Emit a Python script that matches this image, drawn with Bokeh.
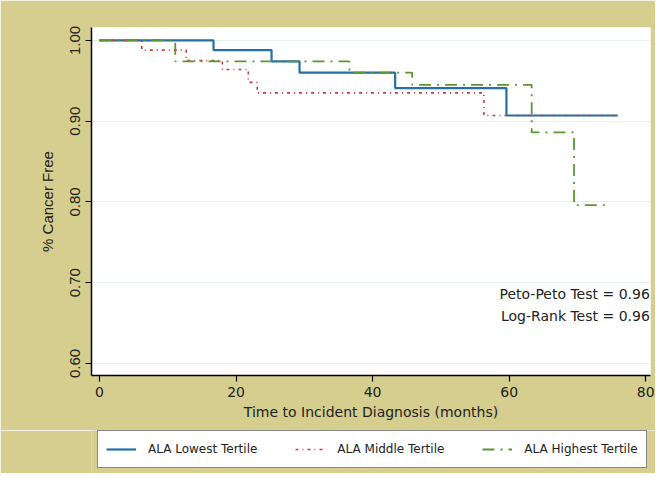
from bokeh.plotting import figure
from bokeh.layouts import column
from bokeh.models import Legend, LegendItem, Label, FixedTicker, Range1d, PrintfTickFormatter
from bokeh.embed import file_html
from bokeh.resources import INLINE

# Kaplan-Meier step data (months, survival fraction)
low_t = [0, 16.7, 25.2, 29.3, 43.3, 59.6, 75.9]
low_s = [1.000, 0.988, 0.974, 0.960, 0.941, 0.907, 0.907]

mid_t = [0, 6.2, 12.7, 18.0, 21.8, 23.1, 56.3, 76.0]
mid_s = [1.000, 0.988, 0.975, 0.964, 0.948, 0.935, 0.907, 0.907]

high_t = [0, 11.1, 36.6, 45.8, 63.3, 69.5, 74.5]
high_s = [1.000, 0.974, 0.960, 0.945, 0.886, 0.796, 0.796]

x_ticks = [0, 20, 40, 60, 80]
y_ticks = [0.60, 0.70, 0.80, 0.90, 1.00]
series_names = ["ALA Lowest Tertile", "ALA Middle Tertile", "ALA Highest Tertile"]
tests = ["Peto-Peto Test = 0.96", "Log-Rank Test = 0.96"]
test_y = [0.686, 0.659]

KHAKI = "#d5ce8f"
BLUE = "#2470a6"
RED = "#cc3b3b"
GREEN = "#5b9632"
styles = [dict(line_color=BLUE, line_width=2.2),
          dict(line_color=RED, line_width=1.6, line_dash="3 4 1 4"),
          dict(line_color=GREEN, line_width=1.8, line_dash="12 6 2 6")]
series = [(low_t, low_s), (mid_t, mid_s), (high_t, high_s)]

p = figure(frame_width=559, frame_height=348, output_backend="svg", toolbar_location=None,
           x_range=Range1d(-1.17, 80.7), y_range=Range1d(0.585, 1.016),
           min_border_left=91, min_border_right=5, min_border_top=27, min_border_bottom=55)
p.border_fill_color = KHAKI
p.background_fill_color = "white"
p.outline_line_color = None

for (t, s), st in zip(series, styles):
    p.step(t, s, mode="after", **st)

p.xaxis.ticker = FixedTicker(ticks=x_ticks)
p.yaxis.ticker = FixedTicker(ticks=y_ticks)
p.yaxis.formatter = PrintfTickFormatter(format="%.2f")

for ax in (p.xaxis, p.yaxis):
    ax.axis_line_color = "black"
    ax.axis_line_width = 1.5
    ax.major_tick_line_color = "black"
    ax.major_tick_line_width = 1.2
    ax.major_tick_out = 6
    ax.major_tick_in = 0
    ax.minor_tick_line_color = None
    ax.major_label_text_color = "#222"
    ax.axis_label_text_color = "#222"
    ax.axis_label_text_font_style = "normal"

p.xaxis.major_label_text_font = "DejaVu Sans"
p.xaxis.major_label_text_font_size = "14px"
p.xaxis.axis_label = "Time to Incident Diagnosis (months)"
p.xaxis.axis_label_text_font = "DejaVu Sans"
p.xaxis.axis_label_text_font_size = "14px"
p.xaxis.axis_label_standoff = 4
p.xaxis.major_label_standoff = 5

p.yaxis.major_label_orientation = "vertical"
p.yaxis.major_label_text_font = "Liberation Sans"
p.yaxis.major_label_text_font_size = "15px"
p.yaxis.axis_label = "% Cancer Free"
p.yaxis.axis_label_text_font = "Liberation Sans"
p.yaxis.axis_label_text_font_size = "15px"
p.yaxis.axis_label_standoff = 12
p.yaxis.major_label_standoff = 5

p.xgrid.grid_line_color = None
p.ygrid.grid_line_color = "#e6eeee"
p.ygrid.grid_line_width = 1

for txt, yy in zip(tests, test_y):
    p.add_layout(Label(x=80.6, y=yy, text=txt, text_align="right", text_baseline="middle",
                       text_font="DejaVu Sans", text_font_size="14px", text_color="#222"))

# legend strip below the chart (same series, drawn outside this strip's visible range)
q = figure(frame_width=655, frame_height=43, output_backend="svg", toolbar_location=None,
           x_range=Range1d(0, 1), y_range=Range1d(5, 6),
           x_axis_location=None, y_axis_location=None,
           min_border=0, min_border_left=0, min_border_right=0, min_border_top=0, min_border_bottom=0)
q.grid.visible = False
q.border_fill_color = KHAKI
q.background_fill_color = KHAKI
q.outline_line_color = None
leg_r = [q.step(t, s, mode="after", **st) for (t, s), st in zip(series, styles)]

legend = Legend(items=[LegendItem(label=n, renderers=[r]) for n, r in zip(series_names, leg_r)],
                orientation="horizontal", location=(97, 5),
                label_text_font="DejaVu Sans", label_text_font_size="12px", label_text_color="#222",
                glyph_width=30, label_standoff=12, spacing=38, padding=8,
                border_line_color="#111", border_line_width=1.5,
                background_fill_color="white", background_fill_alpha=1.0, margin=0)
q.add_layout(legend)

layout = column(p, q, spacing=0)
open("out.html", "w").write(file_html(layout, INLINE))
